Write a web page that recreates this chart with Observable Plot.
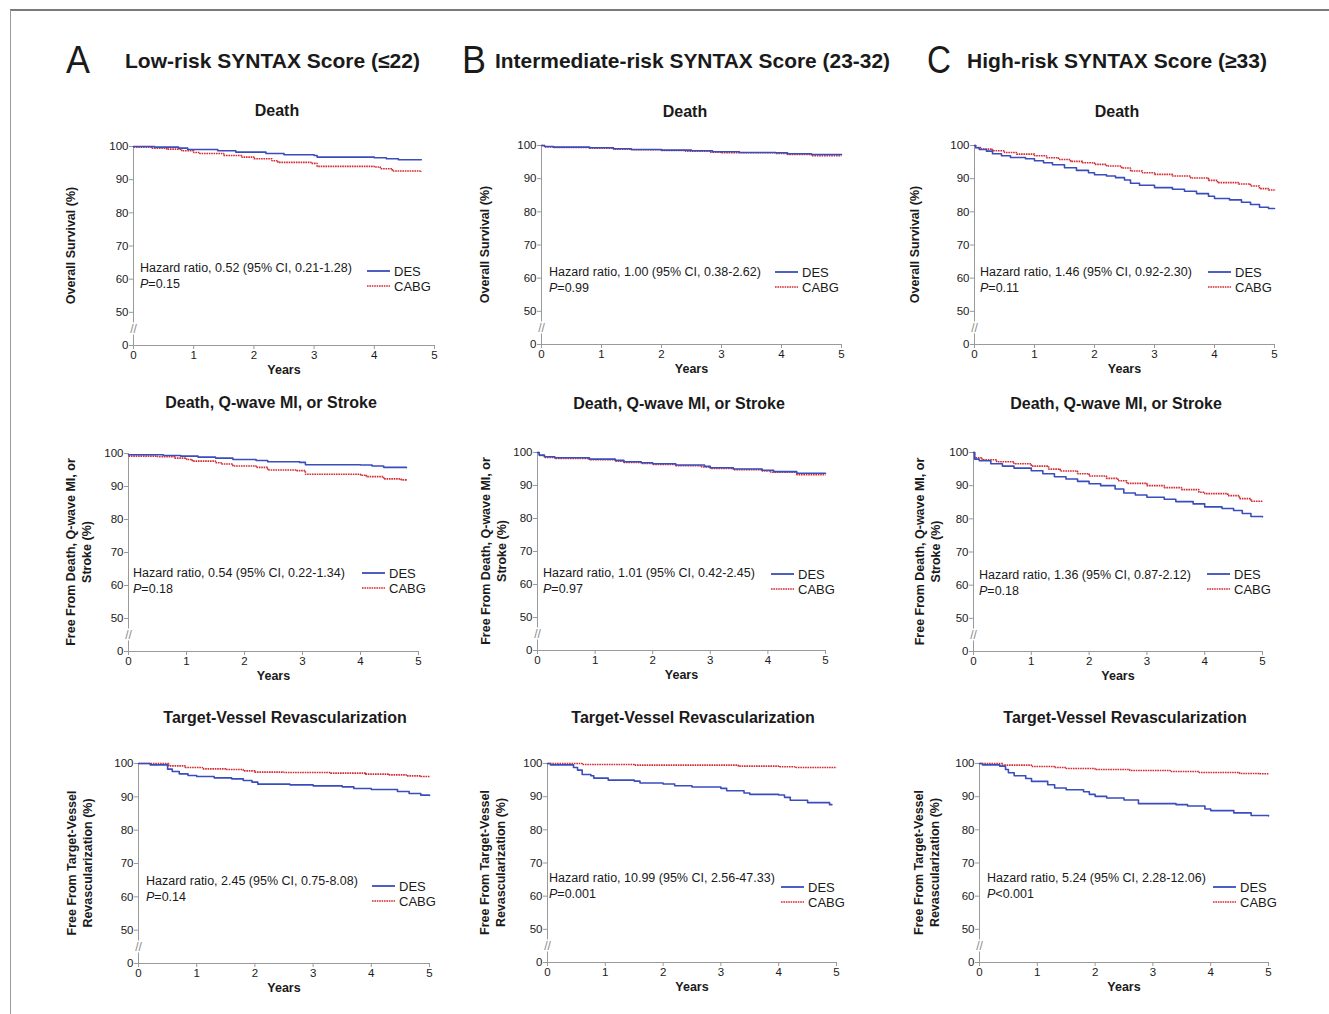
<!DOCTYPE html>
<html><head><meta charset="utf-8">
<script src="https://cdn.jsdelivr.net/npm/d3@7"></script>
<script src="https://cdn.jsdelivr.net/npm/@observablehq/plot@0.6"></script>
<style>
body{margin:0;background:#fff;font-family:"Liberation Sans",Arial,Helvetica,sans-serif;}
#page{position:relative;width:1329px;height:1014px;overflow:hidden;background:#fff;}
#page > svg{position:absolute;overflow:visible;}
</style></head><body><div id="page"></div>
<script>
// ---------------- data ----------------
const groups = ["DES", "CABG"];
const years = [0, 1, 2, 3, 4, 5];
const yTicks = [40, 50, 60, 70, 80, 90, 100]; // 40 is drawn as "0" below the axis break
const breakAt = 45;
const columnLetters = ["A", "B", "C"];
const columnTitles = ["Low-risk SYNTAX Score (≤22)", "Intermediate-risk SYNTAX Score (23-32)", "High-risk SYNTAX Score (≥33)"];
const rowTitles = ["Death", "Death, Q-wave MI, or Stroke", "Target-Vessel Revascularization"];
const rowYLabels = [["Overall Survival (%)"], ["Free From Death, Q-wave MI, or", "Stroke (%)"], ["Free From Target-Vessel", "Revascularization (%)"]];
const hazardTexts = [
  "Hazard ratio, 0.52 (95% CI, 0.21-1.28)", "Hazard ratio, 1.00 (95% CI, 0.38-2.62)", "Hazard ratio, 1.46 (95% CI, 0.92-2.30)",
  "Hazard ratio, 0.54 (95% CI, 0.22-1.34)", "Hazard ratio, 1.01 (95% CI, 0.42-2.45)", "Hazard ratio, 1.36 (95% CI, 0.87-2.12)",
  "Hazard ratio, 2.45 (95% CI, 0.75-8.08)", "Hazard ratio, 10.99 (95% CI, 2.56-47.33)", "Hazard ratio, 5.24 (95% CI, 2.28-12.06)"];
const pTexts = ["=0.15", "=0.99", "=0.11", "=0.18", "=0.97", "=0.18", "=0.14", "=0.001", "<0.001"];

// Kaplan-Meier curves: [years, % event-free]
const desA1 = [[0,100],[0.35,99.8],[0.75,99.5],[0.9,99.1],[1.4,98.7],[1.7,98.3],[2.2,97.9],[2.5,97.5],[3.0,97.3],[3.05,96.8],[4.0,96.6],[4.2,96.3],[4.4,96.0],[4.78,96.0]];
const cabgA1 = [[0,99.8],[0.3,99.5],[0.55,99.2],[0.8,98.7],[1.0,98.2],[1.1,97.9],[1.5,97.3],[1.8,96.8],[2.0,96.3],[2.3,95.7],[2.4,95.2],[2.95,94.9],[3.05,94.0],[4.0,93.8],[4.1,93.3],[4.3,92.6],[4.78,92.3]];
const desB1 = [[0,100],[0.05,99.7],[0.2,99.5],[0.8,99.3],[1.2,99.0],[1.5,98.8],[2.0,98.6],[2.5,98.4],[2.85,98.1],[3.3,97.9],[3.9,97.8],[4.1,97.5],[4.5,97.3],[5,97.3]];
const cabgB1 = [[0,100],[0.05,99.6],[0.2,99.4],[0.8,99.2],[1.2,98.9],[1.5,98.7],[2.0,98.5],[2.4,98.3],[2.8,98.0],[3.0,97.8],[3.9,97.6],[4.1,97.3],[4.5,96.9],[5,96.9]];
const desC1 = [[0,100],[0.02,99.3],[0.08,98.8],[0.2,98.3],[0.3,97.5],[0.45,96.9],[0.6,96.4],[0.85,96.0],[1.0,95.4],[1.15,94.8],[1.3,94.2],[1.5,93.3],[1.7,92.5],[1.9,91.8],[2.0,91.2],[2.2,90.8],[2.35,90.3],[2.5,89.6],[2.6,88.6],[2.75,88.0],[3.0,87.3],[3.3,86.8],[3.5,86.2],[3.7,85.5],[3.9,84.7],[4.0,84.0],[4.25,83.6],[4.45,82.9],[4.6,82.2],[4.75,81.4],[4.9,81.0],[5,81.0]];
const cabgC1 = [[0,100],[0.02,99.4],[0.1,98.9],[0.3,98.4],[0.5,97.9],[0.7,97.4],[1.0,96.9],[1.2,96.3],[1.4,95.8],[1.6,95.2],[1.8,94.8],[2.0,94.3],[2.2,93.8],[2.45,93.2],[2.6,92.3],[2.8,91.8],[3.0,91.3],[3.3,90.8],[3.6,90.2],[3.9,89.5],[4.05,88.8],[4.4,88.4],[4.6,87.8],[4.75,87.0],[4.9,86.6],[5,86.5]];
const desA2 = [[0,99.6],[0.6,99.4],[0.9,99.2],[1.2,98.9],[1.5,98.6],[1.8,98.2],[2.2,97.9],[2.4,97.5],[2.95,97.3],[3.05,96.6],[4.0,96.5],[4.2,96.2],[4.4,95.8],[4.79,95.7]];
const cabgA2 = [[0,99.2],[0.5,99.0],[0.8,98.6],[1.0,98.2],[1.1,97.7],[1.5,97.2],[1.6,96.8],[1.8,96.2],[2.2,95.8],[2.4,95.0],[2.9,94.8],[3.05,93.7],[4.0,93.4],[4.1,93.0],[4.4,92.3],[4.7,92.0],[4.79,91.7]];
const desB2 = [[0,100],[0.03,99.2],[0.12,98.7],[0.3,98.4],[0.9,98.0],[1.35,97.6],[1.5,97.2],[1.8,96.9],[2.0,96.6],[2.4,96.2],[2.9,95.8],[3.0,95.4],[3.4,95.0],[3.9,94.6],[4.1,94.2],[4.5,93.7],[5,93.7]];
const cabgB2 = [[0,100],[0.03,99.1],[0.12,98.5],[0.3,98.2],[0.9,97.8],[1.35,97.4],[1.5,97.0],[1.8,96.7],[2.0,96.4],[2.4,96.0],[2.85,95.6],[3.0,95.2],[3.4,94.8],[3.9,94.4],[4.05,94.0],[4.5,93.3],[5,93.3]];
const desC2 = [[0,100],[0.02,98.0],[0.1,97.5],[0.3,96.6],[0.5,95.9],[0.7,95.3],[1.0,94.5],[1.2,93.6],[1.4,92.7],[1.6,92.0],[1.8,91.3],[2.0,90.6],[2.2,90.0],[2.45,89.0],[2.6,87.8],[2.8,87.2],[3.0,86.5],[3.3,85.9],[3.5,85.2],[3.8,84.5],[4.0,83.6],[4.3,83.1],[4.5,82.5],[4.65,81.6],[4.8,80.7],[5,80.6]];
const cabgC2 = [[0,100],[0.02,98.4],[0.15,97.8],[0.4,97.2],[0.7,96.6],[1.0,95.9],[1.3,95.0],[1.5,94.4],[1.8,93.6],[2.0,92.9],[2.3,92.2],[2.5,91.5],[2.65,90.7],[3.0,90.0],[3.3,89.4],[3.6,88.8],[3.9,88.0],[4.0,87.6],[4.4,87.0],[4.6,86.1],[4.8,85.3],[5,85.1]];
const desA3 = [[0,100],[0.2,99.6],[0.5,98.3],[0.58,97.6],[0.7,96.9],[0.85,96.4],[1.0,96.1],[1.3,95.7],[1.6,95.4],[1.8,94.9],[1.95,94.4],[2.05,93.8],[2.6,93.6],[3.0,93.3],[3.5,93.0],[3.7,92.5],[4.0,92.2],[4.45,91.6],[4.65,91.0],[4.85,90.5],[5,90.4]];
const cabgA3 = [[0,100],[0.52,99.3],[0.8,98.8],[1.1,98.4],[1.5,98.2],[1.8,97.8],[2.0,97.4],[2.5,97.3],[3.3,97.1],[3.9,96.8],[4.3,96.6],[4.6,96.3],[4.85,96.1],[5,96.1]];
const desB3 = [[0,100],[0.05,99.6],[0.45,98.8],[0.52,98.0],[0.6,96.7],[0.75,96.3],[0.8,95.6],[1.05,95.0],[1.5,94.7],[1.6,94.1],[2.0,93.8],[2.2,93.3],[2.5,92.9],[3.0,92.5],[3.1,91.8],[3.4,91.1],[3.5,90.7],[4.0,90.5],[4.1,89.8],[4.2,88.9],[4.5,88.2],[4.88,87.6],[4.92,87.6]];
const cabgB3 = [[0,100],[0.6,99.7],[1.5,99.5],[3.3,99.2],[4.0,99.0],[4.3,98.8],[5,98.8]];
const desC3 = [[0,100],[0.05,99.6],[0.35,99.2],[0.45,98.2],[0.5,97.2],[0.6,96.3],[0.8,95.5],[0.9,94.6],[1.18,93.6],[1.3,92.6],[1.5,92.1],[1.8,91.5],[1.9,90.7],[2.0,90.1],[2.2,89.6],[2.5,89.0],[2.75,87.9],[3.4,87.6],[3.6,87.2],[3.9,86.3],[4.0,85.8],[4.4,85.1],[4.7,84.3],[5,84.2]];
const cabgC3 = [[0,100],[0.4,99.5],[0.9,99.1],[1.3,98.8],[1.5,98.5],[2.0,98.2],[2.6,97.9],[3.3,97.6],[3.8,97.3],[4.5,97.0],[4.85,96.9],[5,96.9]];

const desCurves = [desA1, desB1, desC1, desA2, desB2, desC2, desA3, desB3, desC3];
const cabgCurves = [cabgA1, cabgB1, cabgC1, cabgA2, cabgB2, cabgC2, cabgA3, cabgB3, cabgC3];

// ---------------- layout & style ----------------
const FONT = '"Liberation Sans", Arial, Helvetica, sans-serif';
const DES_COLOR = "#3a4dbd", CABG_COLOR = "#d42a33", AXIS = "#9a9a9a", INK = "#1a1a1a";
const CABG_DASH = "1.6 0.8";
// page pixel positions per panel: x of year 0, x of year 5, y of 100, y of 0
const frames = [
  [133,434,146,345],[541,841,145,344],[974,1274,145,344],
  [128,418,453,651],[537,825,452,650],[973,1262,452,651],
  [138,429,763,963],[547,836,763,962],[979,1268,763,962]];
const yLabelDx = [-62,-56,-59,-57,-51,-53,-66,-62,-60];
const hrPos = [[7,122],[8,127],[6,127],[5,120],[6,121],[6,123],[8,118],[2,115],[8,115]];
const legDy = [125,127,127,120,122,122,123,124,124];
const titlePos = [[277,110],[685,111],[1117,111],[271,402],[679,403],[1116,403],[285,717],[693,717],[1125,717]];
const headerLetterX = [66,462,927], headerTextX = [125,495,967], headerTextW = [295,395,300];

const page = document.getElementById("page");
const mL = 90, mR = 24, mT = 12, mB = 40;

frames.forEach((f, i) => {
  const [x0, x5, yT, yB] = f;
  const W = x5 - x0, H = yB - yT;
  const rows = [
    ...desCurves[i].map(([t, s]) => ({t, s, g: groups[0]})),
    ...cabgCurves[i].map(([t, s]) => ({t, s, g: groups[1]}))];
  const svg = Plot.plot({
    width: mL + W + mR, height: mT + H + mB,
    marginLeft: mL, marginRight: mR, marginTop: mT, marginBottom: mB,
    style: {fontFamily: FONT, fontSize: "11.5px", color: INK, background: "transparent", overflow: "visible"},
    x: {domain: [0, 5]},
    y: {domain: [40, 100]},
    marks: [
      Plot.ruleX([0], {y1: 40, y2: 100, stroke: AXIS}),
      Plot.ruleY([40], {x1: 0, x2: 5, stroke: AXIS}),
      Plot.axisX(years, {tickSize: 4, tickPadding: 1, stroke: AXIS, fill: INK, label: null}),
      Plot.axisY(yTicks, {tickSize: 4, tickPadding: 1, stroke: AXIS, fill: INK, label: null,
        tickFormat: d => d === 40 ? "0" : String(d)}),
      Plot.text([breakAt], {x: 0, y: d => d, text: () => "//", fontSize: 12, fill: "#8a8a8a",
        stroke: "white", strokeWidth: 3, paintOrder: "stroke"}),
      Plot.line(rows.filter(d => d.g === "CABG"), {x: "t", y: "s", curve: "step-after",
        stroke: CABG_COLOR, strokeWidth: 1.6, strokeDasharray: CABG_DASH, strokeLinecap: "butt", strokeLinejoin: "miter"}),
      Plot.line(rows.filter(d => d.g === "DES"), {x: "t", y: "s", curve: "step-after",
        stroke: DES_COLOR, strokeWidth: 1.6}),
      Plot.text(["Years"], {frameAnchor: "bottom", dy: 28, text: d => d, fontSize: 12.5, fontWeight: "bold", fill: INK})
    ]
  });
  svg.style.left = (x0 - mL) + "px";
  svg.style.top = (yT - mT) + "px";
  const g = d3.select(svg).append("g").attr("font-family", FONT).attr("fill", INK).attr("text-anchor", "start");
  // y label
  const lines = rowYLabels[Math.floor(i / 3)];
  const cy = mT + H / 2;
  lines.forEach((ln, k) => {
    const x = mL + yLabelDx[i] + k * 16;
    g.append("text").attr("transform", `translate(${x},${cy}) rotate(-90)`)
      .attr("text-anchor", "middle").attr("dominant-baseline", "central")
      .attr("font-size", 12.5).attr("font-weight", "bold").text(ln);
  });
  // hazard ratio & P
  const [hx, hy] = hrPos[i];
  g.append("text").attr("x", mL + hx).attr("y", mT + hy).attr("dominant-baseline", "central")
    .attr("font-size", 12.5).text(hazardTexts[i]);
  const pt = g.append("text").attr("x", mL + hx).attr("y", mT + hy + 16).attr("dominant-baseline", "central")
    .attr("font-size", 12.5);
  pt.append("tspan").attr("font-style", "italic").text("P");
  pt.append("tspan").text(pTexts[i]);
  // legend
  groups.forEach((grp, k) => {
    const ly = mT + legDy[i] + k * 15;
    g.append("line").attr("x1", mL + 234).attr("x2", mL + 257).attr("y1", ly).attr("y2", ly)
      .attr("stroke", k === 0 ? DES_COLOR : CABG_COLOR).attr("stroke-width", k === 0 ? 1.8 : 1.6)
      .attr("stroke-dasharray", k === 0 ? null : CABG_DASH);
    g.append("text").attr("x", mL + 261).attr("y", ly).attr("dominant-baseline", "central")
      .attr("font-size", 13).text(grp);
  });
  page.appendChild(svg);
});

// overlay: border, headers, row titles
const ov = d3.select(page).append("svg").attr("width", 1329).attr("height", 1014)
  .style("left", "0px").style("top", "0px").attr("font-family", FONT).attr("fill", INK);
ov.append("line").attr("x1", 10).attr("x2", 1329).attr("y1", 10).attr("y2", 10).attr("stroke", "#7a7a7a").attr("stroke-width", 2);
ov.append("line").attr("x1", 10.5).attr("x2", 10.5).attr("y1", 10).attr("y2", 1014).attr("stroke", "#9a9a9a").attr("stroke-width", 1);
columnLetters.forEach((L, c) => {
  ov.append("text").attr("x", headerLetterX[c]).attr("y", 73).attr("font-size", 38)
    .attr("textLength", 24).attr("lengthAdjust", "spacingAndGlyphs").text(L);
  ov.append("text").attr("x", headerTextX[c]).attr("y", 68).attr("font-size", 20.5).attr("font-weight", "bold")
    .attr("textLength", headerTextW[c]).attr("lengthAdjust", "spacingAndGlyphs").text(columnTitles[c]);
});
titlePos.forEach(([x, y], i) => {
  ov.append("text").attr("x", x).attr("y", y).attr("text-anchor", "middle").attr("dominant-baseline", "central")
    .attr("font-size", 16).attr("font-weight", "bold").text(rowTitles[Math.floor(i / 3)]);
});
</script></body></html>
